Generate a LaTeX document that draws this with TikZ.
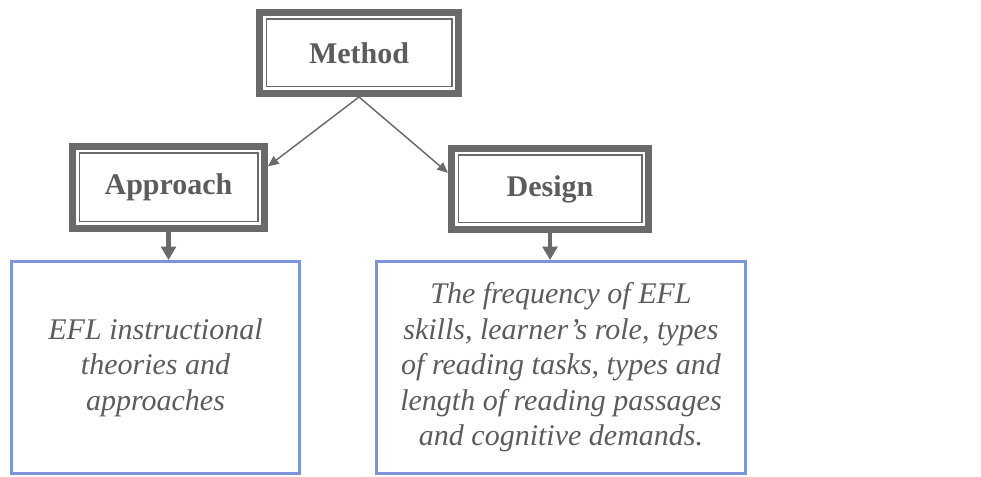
\documentclass[tikz,border=0pt]{standalone}
\usepackage{fontspec}
\setmainfont{Liberation Serif}
\usetikzlibrary{arrows.meta}

\definecolor{framegray}{HTML}{6A6A6A}
\definecolor{textgray}{HTML}{5C5C5C}
\definecolor{boxblue}{HTML}{7D95D8}

\begin{document}
\begin{tikzpicture}[x=0.75pt, y=-0.75pt,
level/.style={draw=framegray, line width=5.25pt, fill=white, text=textgray,
  font=\fontsize{22.5}{27}\selectfont\bfseries, inner sep=0pt,
  path picture={\draw[framegray, line width=1pt]
    ([shift={(5pt,-5pt)}]path picture bounding box.north west) rectangle
    ([shift={(-5pt,5pt)}]path picture bounding box.south east);}},
content/.style={draw=boxblue, line width=2.25pt, minimum height=159pt, text=textgray,
  font=\fontsize{22.5}{26.6}\selectfont\itshape, align=center, inner sep=0pt},
link/.style={-{Triangle[length=8pt,width=7pt]}, draw=framegray, line width=1.1pt},
drop/.style={-{Triangle[length=10pt,width=11pt]}, draw=framegray, line width=3.2pt}]

%%%%%% FRAME %%%%%%%%%%

\useasboundingbox (0,0) rectangle (981,477);

%%%%%% BOXES %%%%%%%%%%

\node[level, minimum width=149.25pt, minimum height=60.75pt] (method) at (359,53) {Method};
\node[level, minimum width=144pt, minimum height=61.5pt] (approach) at (168.5,187.5) {Approach};
\node[level, minimum width=147.75pt, minimum height=60.75pt] (design) at (550,189) {Design};

\node[content, minimum width=216pt] (theories) at (155.5,367.5)
  {EFL instructional\\ theories and\\ approaches};
\node[content, minimum width=276.75pt] (elements) at (561,367.5)
  {The frequency of EFL\\ skills, learner's role, types\\ of reading tasks, types and\\
   length of reading passages\\ and cognitive demands.};

%%%%%% ARROWS %%%%%%%%%%

\draw[link] (method.south) -- (approach.12);
\draw[link] (method.south) -- (design.171);
\draw[drop] (approach.south) -- (approach.south |- theories.north);
\draw[drop] (design.south) -- (design.south |- elements.north);

\end{tikzpicture}
\end{document}
